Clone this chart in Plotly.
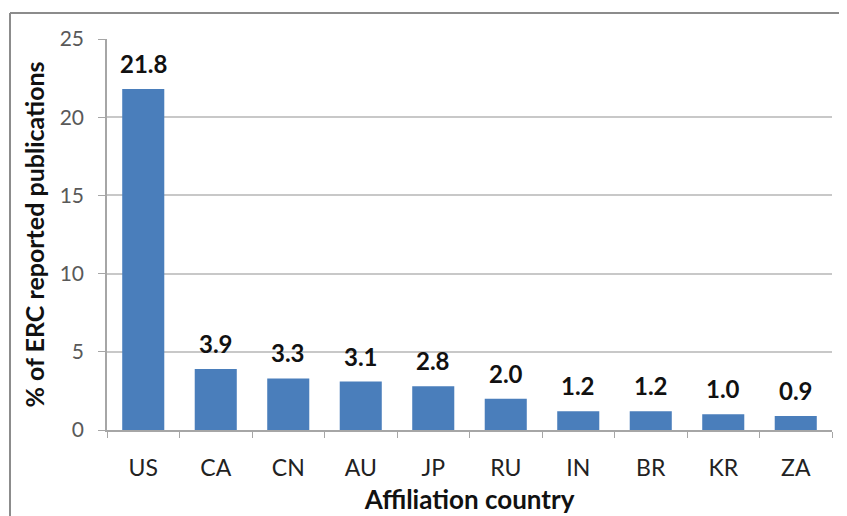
import plotly.graph_objects as go

countries = ['US', 'CA', 'CN', 'AU', 'JP', 'RU', 'IN', 'BR', 'KR', 'ZA']
share_pct = [21.8, 3.9, 3.3, 3.1, 2.8, 2.0, 1.2, 1.2, 1.0, 0.9]
y_ticks = [0, 5, 10, 15, 20, 25]

# page body has an 8px margin, so the figure is drawn 8px smaller
W, H = 839, 508
L, R, T, B = 99, 15, 31, 86
pw, ph = W - L - R, H - T - B

def px_x(x):
    return (x - L) / pw

def px_y(y):
    return (H - B - y) / ph

font = "Lato, 'Open Sans', sans-serif"

fig = go.Figure()
fig.add_trace(go.Bar(
    x=countries,
    y=share_pct,
    marker_color='#4a7ebb',
    marker_line_width=0,
))

# bold value labels over each bar
for c, v in zip(countries, share_pct):
    fig.add_annotation(
        x=c, y=v, text=f"<b>{v:.1f}</b>",
        showarrow=False, yanchor='bottom', yshift=9,
        font=dict(family=font, size=24, color='#111111'),
    )

# outer frame (only top and left edges visible)
border = dict(color='#8c8c8c', width=2)
fig.add_shape(type='line', xref='paper', yref='paper',
              x0=px_x(2), x1=px_x(W + 5), y0=px_y(5), y1=px_y(5), line=border)
fig.add_shape(type='line', xref='paper', yref='paper',
              x0=px_x(2), x1=px_x(2), y0=px_y(5), y1=px_y(H + 5), line=border)

fig.update_layout(
    width=W, height=H,
    margin=dict(l=L, r=R, t=T, b=B),
    plot_bgcolor='white', paper_bgcolor='white',
    bargap=0.42,
    showlegend=False,
    font=dict(family=font),
)
fig.update_xaxes(
    automargin=False,
    showline=True, linecolor='#a6a6a6', linewidth=1.5,
    ticks='outside', tickson='boundaries', ticklen=6, tickcolor='#a6a6a6',
    ticklabelstandoff=17,
    tickfont=dict(size=23, color='#222222'),
    title=dict(text='<b>Affiliation country</b>', font=dict(size=26, color='#111111'), standoff=10),
)
fig.update_yaxes(
    automargin=False,
    range=[0, 25], tickvals=y_ticks,
    showline=True, linecolor='#a6a6a6', linewidth=1.5,
    ticks='outside', ticklen=7, tickcolor='#a6a6a6',
    ticklabelstandoff=10,
    showgrid=True, gridcolor='#c8c8c8', gridwidth=1.5,
    zeroline=False,
    tickfont=dict(size=21, color='#595959'),
    title=dict(text='<b>% of ERC reported publications</b>', font=dict(size=25, color='#111111'), standoff=8),
)

fig.write_html("out.html")
